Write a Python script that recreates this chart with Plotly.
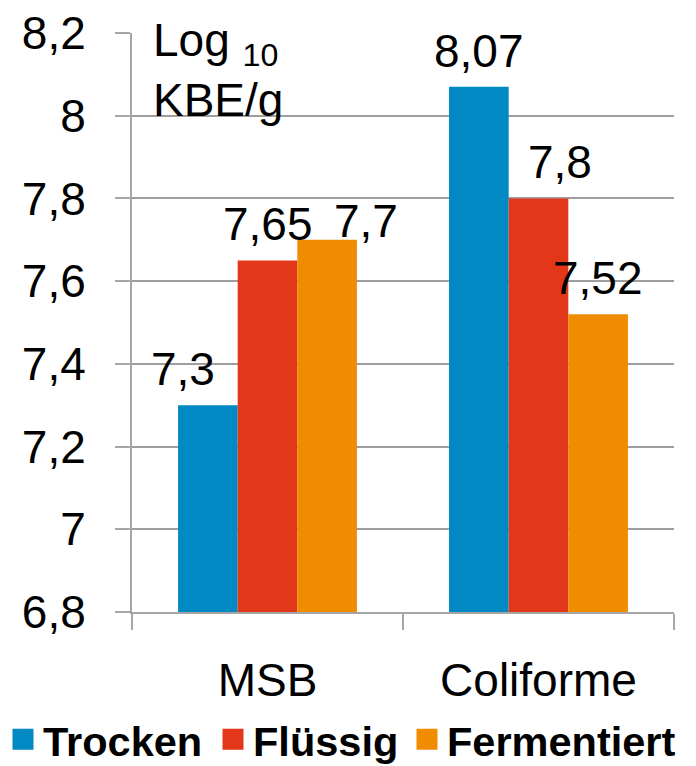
import plotly.graph_objects as go

# Keimzahlen (log10 KBE/g) je Futterart
categories = ["MSB", "Coliforme"]
series_names = ["Trocken", "Flüssig", "Fermentiert"]
trocken = [7.3, 8.07]
fluessig = [7.65, 7.8]
fermentiert = [7.7, 7.52]
y_tick_values = [6.8, 7.0, 7.2, 7.4, 7.6, 7.8, 8.0, 8.2]
y_tick_labels = ["6,8", "7", "7,2", "7,4", "7,6", "7,8", "8", "8,2"]

series_values = [trocken, fluessig, fermentiert]
colors = ["#0089C2", "#E33719", "#F08C00"]
legend_widths = [165, 149, 228]

FONT = "Liberation Sans, Arial, sans-serif"
BARGAP = 0.34
bar_w = (1 - BARGAP) / len(series_names)

# pixel nudges for individual value labels (per series, per category)
label_dx = [[-25, 0], [0, 21], [39, 0]]
label_dy = [[8, 8], [8, 8], [-9, 8]]

fig = go.Figure()

for name, vals, col in zip(series_names, series_values, colors):
    fig.add_trace(go.Bar(
        x=categories, y=vals, name=name,
        marker=dict(color=col, line=dict(width=0)),
        showlegend=False,
    ))

# legend entries with a larger square swatch
for name, col, lw in zip(series_names, colors, legend_widths):
    fig.add_trace(go.Scatter(
        x=[None], y=[None], mode="markers", name=name,
        marker=dict(symbol="square", size=16, color=col,
                    line=dict(color=col, width=5)),
        showlegend=True, legendwidth=lw,
    ))

# value labels above the bars
for si, vals in enumerate(series_values):
    for ci, v in enumerate(vals):
        xc = ci + (si - (len(series_names) - 1) / 2) * bar_w
        fig.add_annotation(
            x=xc, y=v, xref="x", yref="y",
            text=f"{v:g}".replace(".", ","),
            showarrow=False, yanchor="bottom", xanchor="center",
            xshift=label_dx[si][ci], yshift=label_dy[si][ci],
            font=dict(family=FONT, size=46, color="#000000"),
        )

# axis caption inside the plot area
fig.add_annotation(
    x=0.035, y=1, xref="paper", yref="paper",
    text="Log <sub>10</sub><br>KBE/g",
    showarrow=False, xanchor="left", yanchor="top", align="left",
    yshift=21,
    font=dict(family=FONT, size=46, color="#000000"),
)

fig.update_layout(
    width=696, height=766,
    margin=dict(l=132, r=22, t=33, b=154, autoexpand=False),
    paper_bgcolor="white", plot_bgcolor="white",
    barmode="group", bargap=BARGAP, bargroupgap=0,
    font=dict(family=FONT, size=46, color="#000000"),
    legend=dict(
        orientation="h", xref="paper", yref="paper",
        x=-0.238, xanchor="left", y=-0.22, yanchor="middle",
        font=dict(family=FONT, size=41.5, color="#000000", weight="bold"),
        itemsizing="trace", tracegroupgap=0,
        bgcolor="rgba(0,0,0,0)",
    ),
)

fig.update_xaxes(
    type="category", categoryorder="array", categoryarray=categories,
    range=[-0.5, 1.5],
    showline=True, linecolor="#A6A6A6", linewidth=2,
    ticks="outside", tickson="boundaries", ticklen=16, tickwidth=2,
    tickcolor="#A6A6A6", showgrid=False,
    tickfont=dict(family=FONT, size=46, color="#000000"),
    ticklabelstandoff=27,
)

fig.update_yaxes(
    range=[6.8, 8.2], tickmode="array",
    tickvals=y_tick_values, ticktext=y_tick_labels,
    showline=True, linecolor="#A6A6A6", linewidth=2,
    ticks="outside", ticklen=15, tickwidth=2, tickcolor="#A6A6A6",
    showgrid=True, gridcolor="#9E9E9E", gridwidth=1.5,
    zeroline=False,
    tickfont=dict(family=FONT, size=46, color="#000000"),
    ticklabelstandoff=20,
)

fig.write_html("out.html")
